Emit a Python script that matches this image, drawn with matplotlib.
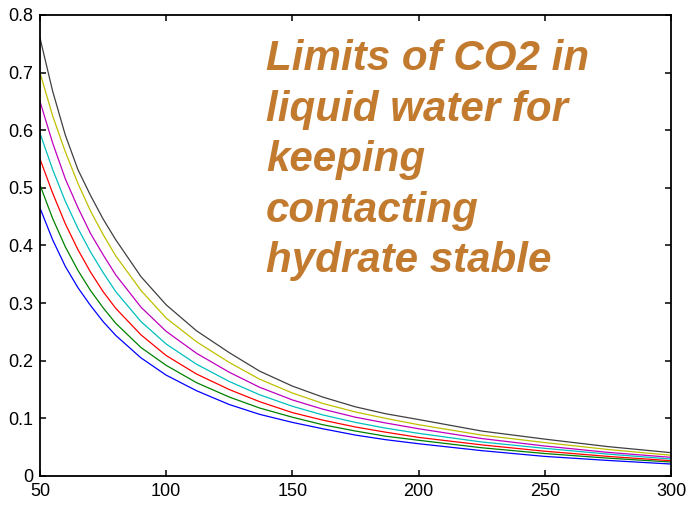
import matplotlib
matplotlib.use('Agg')
import matplotlib.pyplot as plt

x_vals = [50, 55, 60, 65, 70, 75, 80, 90, 100, 112, 125, 137, 150, 162, 175, 187, 200, 225, 250, 275, 300]

# CO2 limit curves (top to bottom in the picture)
black_vals = [0.760, 0.668, 0.592, 0.532, 0.487, 0.446, 0.410, 0.346, 0.297, 0.252, 0.214,
              0.182, 0.156, 0.137, 0.120, 0.108, 0.098, 0.078, 0.064, 0.051, 0.0405]
yellow_vals = [0.700, 0.625, 0.563, 0.508, 0.460, 0.419, 0.382, 0.322, 0.274, 0.233, 0.197,
               0.168, 0.144, 0.126, 0.111, 0.100, 0.089, 0.071, 0.058, 0.046, 0.036]
magenta_vals = [0.650, 0.578, 0.516, 0.466, 0.421, 0.384, 0.349, 0.293, 0.251, 0.213, 0.180,
                0.154, 0.132, 0.116, 0.102, 0.092, 0.082, 0.065, 0.052, 0.041, 0.0324]
cyan_vals = [0.595, 0.532, 0.477, 0.430, 0.389, 0.353, 0.320, 0.268, 0.229, 0.194, 0.164,
             0.141, 0.121, 0.106, 0.093, 0.083, 0.074, 0.059, 0.048, 0.038, 0.0295]
red_vals = [0.550, 0.491, 0.438, 0.393, 0.354, 0.320, 0.291, 0.245, 0.209, 0.177, 0.150,
            0.129, 0.110, 0.097, 0.085, 0.076, 0.067, 0.054, 0.043, 0.034, 0.0266]
green_vals = [0.505, 0.447, 0.398, 0.357, 0.322, 0.292, 0.265, 0.223, 0.192, 0.162, 0.137,
              0.118, 0.102, 0.089, 0.078, 0.069, 0.062, 0.049, 0.039, 0.031, 0.0243]
blue_vals = [0.465, 0.410, 0.364, 0.327, 0.296, 0.268, 0.244, 0.205, 0.175, 0.148, 0.124,
             0.107, 0.093, 0.082, 0.071, 0.063, 0.056, 0.044, 0.034, 0.027, 0.0208]

series = [blue_vals, green_vals, red_vals, cyan_vals, magenta_vals, yellow_vals, black_vals]
colors = ['#0000ff', '#008000', '#ff0000', '#00bfbf', '#bf00bf', '#bfbf00', '#404040']

x_ticks = [50, 100, 150, 200, 250, 300]
y_ticks = [0, 0.1, 0.2, 0.3, 0.4, 0.5, 0.6, 0.7, 0.8]
y_tick_labels = ['0', '0.1', '0.2', '0.3', '0.4', '0.5', '0.6', '0.7', '0.8']

note = 'Limits of CO2 in\nliquid water for\nkeeping\ncontacting\nhydrate stable'

plt.rcParams['font.family'] = ['Liberation Sans', 'DejaVu Sans']

fig = plt.figure(figsize=(6.93, 5.05), dpi=100)
ax = fig.add_axes([40 / 693, 1 - 476 / 505, 631 / 693, 461 / 505])

for vals, c in zip(series, colors):
    ax.plot(x_vals, vals, color=c, linewidth=0.9)

ax.set_xlim(50, 300)
ax.set_ylim(0, 0.8)
ax.set_xticks(x_ticks)
ax.set_yticks(y_ticks)
ax.set_yticklabels(y_tick_labels)
ax.tick_params(direction='in', top=True, right=True, length=4, width=1.1,
               labelsize=13, colors='black', pad=5)
for s in ax.spines.values():
    s.set_linewidth(1.3)

fig.text(266 / 693, 1 - 39 / 505, note, ha='left', va='top', fontsize=30.3,
         fontweight='bold', fontstyle='italic', color='#c27a2f', linespacing=1.34)

fig.savefig('out.png', dpi=100)
